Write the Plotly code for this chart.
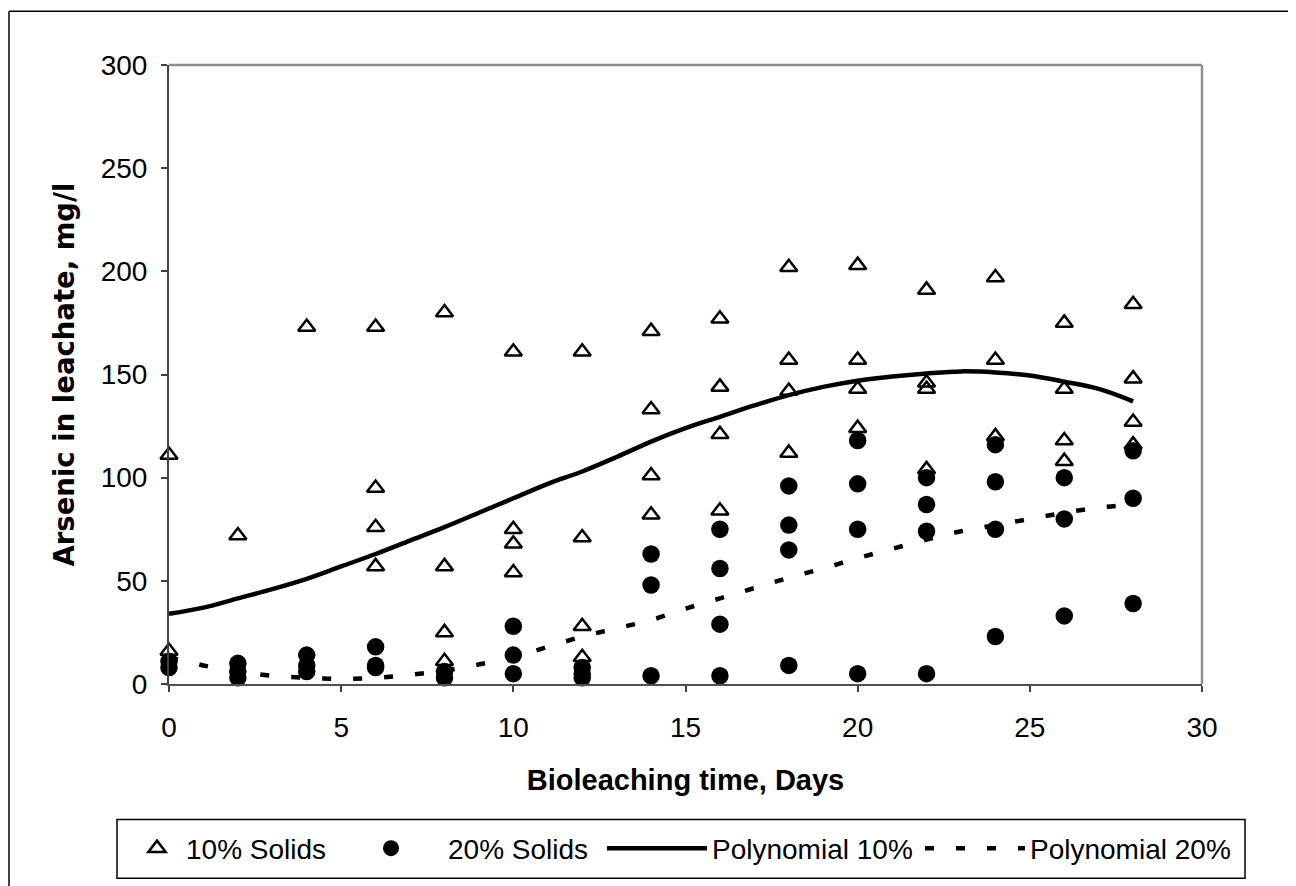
import plotly.graph_objects as go

# ---- data ----
days_10 = [0, 0,
           2,
           4,
           6, 6, 6, 6,
           8, 8, 8, 8,
           10, 10, 10, 10,
           12, 12, 12, 12,
           14, 14, 14, 14,
           16, 16, 16, 16,
           18, 18, 18, 18,
           20, 20, 20, 20,
           22, 22, 22, 22,
           24, 24, 24,
           26, 26, 26, 26,
           28, 28, 28, 28]
arsenic_10 = [111, 16,
              72,
              173,
              173, 95, 76, 57,
              180, 57, 25, 11,
              161, 75, 68, 54,
              161, 71, 28, 13,
              171, 133, 101, 82,
              177, 144, 121, 84,
              202, 157, 142, 112,
              203, 157, 143, 124,
              191, 146, 143, 104,
              197, 157, 120,
              175, 143, 118, 108,
              184, 148, 127, 116]

days_20 = [0, 0,
           2, 2, 2,
           4, 4, 4,
           6, 6, 6,
           8, 8,
           10, 10, 10,
           12, 12, 12,
           14, 14, 14,
           16, 16, 16, 16,
           18, 18, 18, 18,
           20, 20, 20, 20,
           22, 22, 22, 22,
           24, 24, 24, 24,
           26, 26, 26,
           28, 28, 28]
arsenic_20 = [11, 8,
              10, 6, 3,
              14, 9, 6,
              18, 9, 8,
              6, 3,
              28, 14, 5,
              8, 5, 3,
              63, 48, 4,
              75, 56, 29, 4,
              96, 77, 65, 9,
              118, 97, 75, 5,
              100, 87, 74, 5,
              116, 98, 75, 23,
              100, 80, 33,
              113, 90, 39]

trend_days = list(range(0, 29))
poly_10 = [34, 37, 41.5, 46, 51, 57, 63, 69.5, 76, 83, 90, 97, 103, 110, 117.5,
           124, 129.5, 135, 140, 144, 147, 149, 150.5, 151.5, 151, 149.5, 146.5,
           143, 137]
poly_20 = [13, 9, 6, 4, 3, 2.5, 3, 4.5, 6.5, 9.5, 13, 18, 23, 27, 31, 36.5, 41.5,
           46.5, 51.5, 56, 61, 65.5, 70, 74, 77, 80, 83, 85.5, 87]

x_ticks = [0, 5, 10, 15, 20, 25, 30]
y_ticks = [0, 50, 100, 150, 200, 250, 300]

FONT = "Liberation Sans, Arial, sans-serif"

fig = go.Figure()

fig.add_trace(go.Scatter(
    x=trend_days, y=poly_10, mode="lines", name="Polynomial 10%",
    line=dict(color="black", width=4.5, shape="spline"),
    legend="legend3", cliponaxis=False))
fig.add_trace(go.Scatter(
    x=trend_days, y=poly_20, mode="lines", name="Polynomial 20%",
    line=dict(color="black", width=4.5, dash="9px,22px", shape="spline"),
    legend="legend4", cliponaxis=False))
fig.add_trace(go.Scatter(
    x=days_10, y=arsenic_10, mode="markers", name="10% Solids",
    marker=dict(symbol="triangle-up-open", size=15, color="black",
                line=dict(color="black", width=2.5)),
    legend="legend", cliponaxis=False))
fig.add_trace(go.Scatter(
    x=days_20, y=arsenic_20, mode="markers", name="20% Solids",
    marker=dict(symbol="circle", size=17.5, color="black"),
    legend="legend2", cliponaxis=False))

# The page body has an 8px margin, so page pixel p maps to figure pixel p-8.
OFF = 8
# plot area in page pixels: left 169, right 1202, top 65, bottom 686
L, R, T, B = 169 - OFF, 1202 - OFF, 65 - OFF, 686 - OFF
W, H = 1296 - OFF, 886 - OFF
pw, ph = R - L, B - T


def px_x(p):
    return (p - OFF - L) / pw


def px_y(p):
    return (B - (p - OFF)) / ph


leg_common = dict(orientation="h", yanchor="middle", xanchor="left",
                  font=dict(family=FONT, size=28, color="black"),
                  bgcolor="rgba(0,0,0,0)", borderwidth=0)
leg_y = px_y(851)

fig.update_layout(
    width=W, height=H,
    margin=dict(l=L, r=W - R, t=T, b=H - B),
    paper_bgcolor="white", plot_bgcolor="white",
    font=dict(family=FONT, size=28, color="black"),
    showlegend=True,
    legend=dict(x=px_x(128), y=leg_y, itemwidth=48, **leg_common),
    legend2=dict(x=px_x(334), y=leg_y, itemwidth=104, **leg_common),
    legend3=dict(x=px_x(602), y=leg_y, itemwidth=100, **leg_common),
    legend4=dict(x=px_x(920), y=leg_y, itemwidth=100, **leg_common),
    xaxis=dict(range=[0, 30], tickvals=x_ticks, ticks="outside", ticklen=6,
               tickwidth=1.5, tickcolor="#404040", showline=True,
               linecolor="#505050", linewidth=2, showgrid=False,
               zeroline=False, ticklabelstandoff=11,
               tickfont=dict(family=FONT, size=28, color="black"),
               title=dict(text="<b>Bioleaching time, Days</b>", standoff=28,
                          font=dict(family=FONT, size=29, color="black"))),
    yaxis=dict(range=[0, 300], tickvals=y_ticks, ticks="outside", ticklen=6,
               tickwidth=1.5, tickcolor="#404040", showline=True,
               linecolor="#404040", linewidth=2, showgrid=False,
               zeroline=False, ticklabelstandoff=8,
               tickfont=dict(family=FONT, size=28, color="black"),
               title=dict(text="<b>Arsenic in leachate, mg/l</b>", standoff=18,
                          font=dict(family="DejaVu Sans, sans-serif", size=27.5,
                                    color="black"))),
    shapes=[
        # gray top and right frame of plot area
        dict(type="line", xref="paper", yref="paper", x0=0, x1=1, y0=1, y1=1,
             line=dict(color="#8f8f8f", width=2.5), layer="below"),
        dict(type="line", xref="paper", yref="paper", x0=1, x1=1, y0=0, y1=1,
             line=dict(color="#8f8f8f", width=2.5), layer="below"),
        # legend box
        dict(type="rect", xref="paper", yref="paper",
             x0=px_x(117), x1=px_x(1245), y0=px_y(881), y1=px_y(822),
             line=dict(color="black", width=1.5)),
        # outer chart border (top and left)
        dict(type="line", xref="paper", yref="paper",
             x0=px_x(9), x1=px_x(1310), y0=px_y(11), y1=px_y(11),
             line=dict(color="black", width=1.5)),
        dict(type="line", xref="paper", yref="paper",
             x0=px_x(9), x1=px_x(9), y0=px_y(11), y1=px_y(900),
             line=dict(color="black", width=1.5)),
    ],
)

fig.write_html("out.html")
